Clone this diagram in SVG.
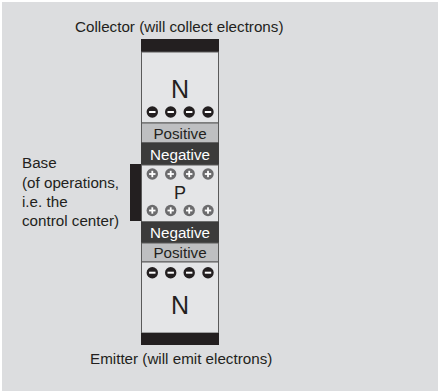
<svg xmlns="http://www.w3.org/2000/svg" width="438" height="391" viewBox="0 0 438 391">
<defs>
<style>
text{font-family:"Liberation Sans",Arial,Helvetica,sans-serif;fill:#231f20}
.lbl{font-size:15.2px}
.band{font-size:15.2px;text-anchor:middle}
.wt{fill:#ffffff}
.big{font-size:25px;text-anchor:middle}
.region{fill:#e4e5e7;stroke:#5a5a5a;stroke-width:1}
.pos{fill:#bebfc1;stroke:#5a5a5a;stroke-width:1}
.neg{fill:#3b3b3b;stroke:#3b3b3b;stroke-width:1}
.bar{fill:#231f20}
</style>
<g id="minus">
<circle r="5.7" fill="#231f20"/>
<rect x="-3.2" y="-1" width="6.4" height="2" fill="#ffffff"/>
</g>
<g id="plus">
<circle r="5.7" fill="#6b6b6d"/>
<rect x="-3.2" y="-0.9" width="6.4" height="1.8" fill="#ffffff"/>
<rect x="-0.9" y="-3.2" width="1.8" height="6.4" fill="#ffffff"/>
</g>
</defs>
<rect x="0" y="0" width="438" height="391" fill="#ffffff"/>
<rect x="2" y="2" width="436" height="389" fill="#dcdddf"/>

<g id="collector">
<rect class="bar" x="141" y="39" width="78" height="13"/>
<text class="lbl" x="75" y="32">Collector (will collect electrons)</text>
</g>

<g id="n-top">
<rect class="region" x="141.5" y="52" width="77" height="71"/>
<text class="big" x="180" y="98">N</text>
<use href="#minus" x="152.3" y="112"/>
<use href="#minus" x="170.7" y="112"/>
<use href="#minus" x="189.2" y="112"/>
<use href="#minus" x="208" y="112"/>
</g>

<g id="positive-top">
<rect class="pos" x="141.5" y="123" width="77" height="20"/>
<text class="band" x="180" y="138.5">Positive</text>
</g>

<g id="negative-top">
<rect class="neg" x="141.5" y="143" width="77" height="22"/>
<text class="band wt" x="180" y="159.5">Negative</text>
</g>

<g id="p-region">
<rect class="region" x="141.5" y="165" width="77" height="57"/>
<text class="big" x="180" y="199" style="font-size:18px">P</text>
<use href="#plus" x="152.3" y="174"/>
<use href="#plus" x="170.7" y="174"/>
<use href="#plus" x="189.2" y="174"/>
<use href="#plus" x="208" y="174"/>
<use href="#plus" x="152.3" y="210.5"/>
<use href="#plus" x="170.7" y="210.5"/>
<use href="#plus" x="189.2" y="210.5"/>
<use href="#plus" x="208" y="210.5"/>
</g>

<g id="negative-bottom">
<rect class="neg" x="141.5" y="222" width="77" height="21"/>
<text class="band wt" x="180" y="238">Negative</text>
</g>

<g id="positive-bottom">
<rect class="pos" x="141.5" y="243" width="77" height="19"/>
<text class="band" x="180" y="258">Positive</text>
</g>

<g id="n-bottom">
<rect class="region" x="141.5" y="262" width="77" height="71"/>
<text class="big" x="180" y="314">N</text>
<use href="#minus" x="152.3" y="272.7"/>
<use href="#minus" x="170.7" y="272.7"/>
<use href="#minus" x="189.2" y="272.7"/>
<use href="#minus" x="208" y="272.7"/>
</g>

<g id="emitter">
<rect class="bar" x="141" y="333" width="78" height="12"/>
<text class="lbl" x="90" y="364">Emitter (will emit electrons)</text>
</g>

<g id="base">
<rect class="bar" x="130" y="164" width="11" height="57"/>
<text class="lbl" x="22" y="168">Base</text>
<text class="lbl" x="22" y="187.5">(of operations,</text>
<text class="lbl" x="22" y="207">i.e. the</text>
<text class="lbl" x="22" y="226">control center)</text>
</g>

<g id="connectors"></g>
</svg>
